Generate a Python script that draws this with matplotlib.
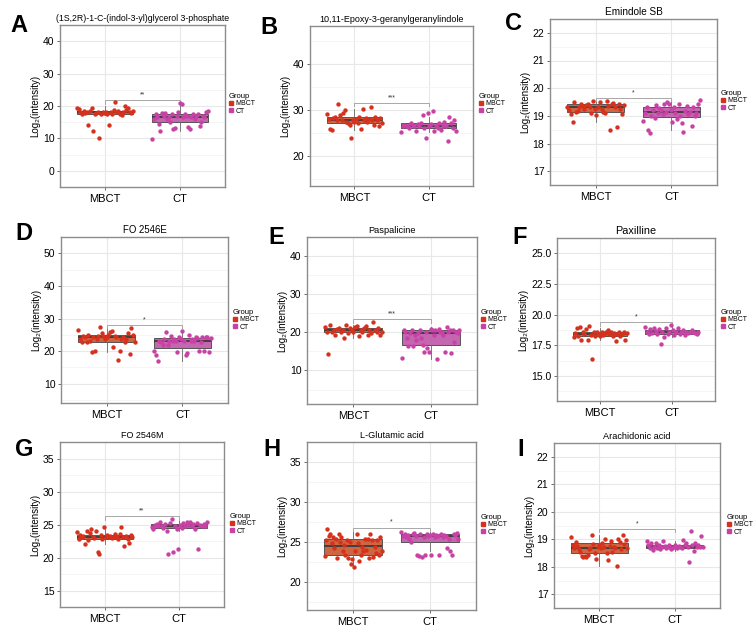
import matplotlib.pyplot as plt
import numpy as np
from matplotlib.lines import Line2D

plt.rcParams['font.family'] = ['Liberation Sans', 'DejaVu Sans']

groups = ['MBCT', 'CT']
titles = ['(1S,2R)-1-C-(indol-3-yl)glycerol 3-phosphate',
          '10,11-Epoxy-3-geranylgeranylindole', 'Emindole SB',
          'FO 2546E', 'Paspalicine', 'Paxilline',
          'FO 2546M', 'L-Glutamic acid', 'Arachidonic acid']
stars = ['**', '***', '*', '*', '***', '*', '**', '*', '*']

# log2 intensities, left to right inside each group
a_mbct = [19.5, 19.0, 18.0, 17.5, 18.5, 17.8, 18.0, 14.0, 18.5, 19.5, 12.4, 17.5, 17.7, 18.0, 10.2, 17.5, 18.0, 17.7,
          18.0, 17.5, 14.0, 18.0, 17.5, 18.7, 21.1, 18.0, 18.5, 17.5, 17.3, 18.0, 20.0, 18.7, 19.5, 18.0, 17.7, 18.5]
a_ct = [9.9, 16.0, 17.5, 16.5, 14.4, 12.4, 17.7, 17.0, 17.7, 16.0, 16.5, 15.0, 17.5, 12.9, 13.2, 17.0, 18.0, 21.0,
        20.7, 16.5, 17.5, 17.0, 13.4, 12.9, 16.5, 17.5, 16.0, 17.0, 17.5, 13.9, 15.0, 17.0, 16.5, 18.0, 18.5]
b_mbct = [29.1, 28.0, 25.8, 25.6, 28.2, 28.5, 27.7, 31.2, 28.9, 27.8, 29.3, 30.0, 27.4, 27.1, 26.7, 23.8, 27.8, 27.4,
          28.0, 27.1, 28.4, 25.9, 30.1, 27.8, 28.2, 27.4, 28.0, 30.6, 27.7, 26.7, 28.4, 27.8, 26.4, 28.2, 27.1]
b_ct = [25.1, 26.5, 26.7, 26.4, 26.5, 26.0, 27.1, 26.7, 26.4, 25.3, 26.9, 26.5, 27.1, 28.9, 26.0, 23.9, 29.3, 26.4,
        26.9, 29.8, 25.3, 26.5, 26.0, 27.1, 25.6, 26.4, 27.4, 26.5, 23.2, 28.4, 27.1, 26.0, 27.8, 25.3]
c_mbct = [19.31, 19.2, 19.05, 18.77, 19.5, 19.15, 19.19, 19.31, 19.44, 19.36, 19.23, 19.4, 19.42, 19.33, 19.1, 19.54,
          19.23, 19.04, 19.31, 19.5, 19.26, 19.15, 19.1, 19.52, 19.36, 18.47, 19.42, 19.47, 19.31, 18.58, 19.42, 19.26,
          19.05, 19.4]
c_ct = [18.81, 19.12, 19.31, 18.47, 18.37, 18.98, 19.21, 18.91, 19.4, 19.1, 19.29, 19.21, 19.05, 19.42, 19.15, 19.5,
        19.44, 19.21, 18.77, 19.31, 19.12, 18.87, 19.42, 19.0, 18.74, 18.42, 19.19, 19.36, 19.08, 19.15, 18.63, 19.31,
        18.98, 19.12, 19.44, 19.57]
d_mbct = [26.5, 23.7, 22.8, 24.6, 24.2, 22.8, 25.1, 23.2, 19.7, 24.4, 20.0, 23.7, 24.6, 27.4, 25.6, 24.6, 23.7, 24.2,
          24.9, 26.0, 26.2, 21.4, 24.6, 24.2, 17.2, 20.0, 23.7, 24.2, 22.8, 23.7, 25.6, 19.0, 27.2, 25.1, 22.8]
d_ct = [20.0, 18.8, 16.9, 23.2, 22.8, 21.8, 23.7, 26.0, 21.8, 23.1, 24.6, 23.2, 23.7, 23.1, 19.7, 24.2, 23.7, 26.2,
        23.1, 18.8, 19.3, 25.1, 23.2, 23.7, 23.1, 24.2, 24.0, 20.0, 22.8, 24.2, 20.0, 24.4, 24.2, 19.7, 24.0]
e_mbct = [21.3, 20.2, 14.2, 22.0, 20.0, 20.7, 19.4, 20.8, 21.1, 20.0, 20.5, 18.5, 22.0, 19.8, 21.1, 20.5, 20.0, 21.3,
          21.7, 19.1, 20.7, 20.0, 21.1, 21.7, 19.4, 20.5, 19.8, 22.8, 20.5, 20.0, 21.1, 19.4, 20.2]
e_ct = [13.2, 20.7, 20.0, 18.5, 16.4, 19.8, 20.5, 16.5, 19.4, 18.1, 19.8, 20.5, 18.5, 16.8, 14.8, 20.2, 15.9, 14.8,
        20.8, 20.5, 19.4, 20.7, 12.9, 20.8, 20.0, 20.2, 19.4, 14.8, 21.3, 20.0, 20.5, 14.6, 20.7, 17.4, 20.2, 19.8, 20.5]
f_mbct = [18.15, 18.49, 18.92, 18.28, 19.0, 17.95, 18.54, 18.41, 18.79, 17.9, 19.1, 18.33, 16.36, 18.54, 18.23,
          18.59, 18.41, 18.28, 18.54, 18.33, 18.49, 18.59, 18.74, 18.41, 18.54, 18.28, 18.49, 17.82, 18.41, 18.59,
          18.28, 18.41, 18.54, 17.9, 18.49]
f_ct = [19.0, 18.59, 18.41, 18.79, 18.49, 18.92, 18.67, 18.41, 18.85, 17.64, 18.54, 18.15, 18.92, 18.41, 18.59,
        19.18, 18.74, 18.33, 18.54, 18.92, 18.41, 18.59, 18.74, 18.33, 18.54, 18.49, 18.59, 18.74, 18.54, 18.49,
        18.41, 18.59]
g_mbct = [23.9, 22.8, 23.4, 23.1, 23.3, 22.1, 24.0, 22.7, 23.7, 24.4, 23.2, 22.9, 24.1, 20.8, 20.6, 23.4, 22.8, 24.6,
          23.2, 23.4, 23.1, 23.3, 22.9, 23.2, 23.6, 23.2, 22.8, 23.6, 24.6, 23.1, 21.7, 23.3, 22.8, 22.2, 23.4, 23.1]
g_ct = [24.7, 24.4, 25.0, 25.15, 24.77, 25.34, 24.87, 24.53, 25.15, 24.06, 20.58, 25.24, 25.92, 20.82, 24.77, 24.3,
        21.29, 25.0, 24.53, 25.24, 24.87, 25.34, 25.0, 25.4, 24.77, 25.15, 24.4, 25.24, 21.38, 25.0, 24.77, 25.15,
        24.87, 25.34]
h_mbct = [23.28, 25.25, 26.63, 25.84, 26.04, 24.86, 25.65, 24.26, 25.45, 23.08, 26.04, 25.05, 25.65, 23.87, 24.66,
          23.47, 25.25, 23.08, 25.05, 22.29, 22.88, 21.97, 23.87, 26.04, 24.86, 22.68, 23.47, 24.46, 23.87, 25.45,
          24.07, 25.45, 23.08, 26.04, 25.25, 23.16, 24.46, 23.67, 25.25, 23.47, 25.65, 23.87]
h_ct = [26.24, 25.84, 26.04, 25.65, 25.92, 25.45, 25.05, 26.04, 26.16, 25.84, 23.47, 23.28, 26.04, 23.16, 25.65,
        23.4, 26.04, 25.84, 25.92, 23.47, 26.04, 25.65, 25.92, 25.84, 23.47, 26.04, 25.65, 25.92, 25.84, 24.26,
        25.45, 23.87, 23.47, 26.04, 25.92, 26.16, 25.45]
i_mbct = [19.1, 18.79, 18.68, 18.91, 18.76, 18.65, 18.53, 18.39, 18.37, 18.39, 18.37, 18.42, 18.65, 18.68, 19.16,
          18.82, 18.5, 18.28, 18.73, 18.79, 18.68, 18.87, 18.73, 19.02, 18.5, 18.25, 18.76, 18.95, 18.53, 18.73,
          18.68, 18.03, 19.02, 18.91, 18.65, 19.16, 18.84, 18.99, 18.68]
i_ct = [18.93, 18.79, 18.68, 18.87, 18.61, 18.73, 18.87, 18.68, 18.79, 18.65, 18.73, 18.93, 18.76, 18.68, 18.73,
        18.79, 18.65, 18.68, 18.73, 18.79, 18.7, 18.76, 18.73, 18.68, 18.99, 18.79, 18.87, 18.73, 18.16, 19.29,
        18.79, 18.59, 18.87, 18.73, 18.79, 18.73, 19.13, 18.73]

data = [(a_mbct, a_ct), (b_mbct, b_ct), (c_mbct, c_ct), (d_mbct, d_ct), (e_mbct, e_ct),
        (f_mbct, f_ct), (g_mbct, g_ct), (h_mbct, h_ct), (i_mbct, i_ct)]

ylims = [(-3.9, 45), (13.4, 48.3), (16.95, 22.15), (4.1, 50.5), (1.2, 44.1),
         (12.95, 25.5), (14.15, 37.55), (16.56, 36.46), (16.5, 22.1)]
yticks = [[0, 10, 20, 30, 40], [20, 30, 40], [17, 18, 19, 20, 21, 22], [10, 20, 30, 40, 50],
          [10, 20, 30, 40], [15, 17.5, 20, 22.5, 25], [15, 20, 25, 30, 35], [20, 25, 30, 35],
          [17, 18, 19, 20, 21, 22]]
bracket_y = [21.7, 31.5, 19.63, 28.1, 23.4, 19.36, 26.25, 26.83, 19.38]

# layout in pixels of the 756x640 picture
axes_px = [(60, 25, 225, 187), (310, 26, 473, 186), (550, 19, 717, 185),
           (61, 237, 228, 403), (307, 237, 477, 404), (557, 238, 715, 401),
           (60, 442, 224, 607), (307, 442, 476, 610), (554, 443, 720, 608)]
legend_px = [(229, 93), (479, 93), (721, 90), (233, 309), (481, 309), (721, 309),
             (230, 513), (481, 514), (727, 514)]
letter_px = [(10, 25), (260, 27), (505, 23), (15, 233), (268, 238), (512, 237),
             (15, 450), (263, 449), (517, 449)]
title_size = [6.3, 6.5, 7.2, 6.9, 6.7, 7.8, 6.5, 6.6, 6.6]

point_cols = ['#D5321E', '#C842A6']
box_cols = ['#CF6642', '#C466B0']

W, H = 756, 640
fig = plt.figure(figsize=(W / 100, H / 100), dpi=100)

for k in range(9):
    l, t, r, b = axes_px[k]
    ax = fig.add_axes([l / W, 1 - b / H, (r - l) / W, (b - t) / H])
    lo, hi = ylims[k]
    span = hi - lo

    mbct, ct = data[k]
    bp = ax.boxplot([mbct, ct], positions=[1, 2], widths=0.75, patch_artist=True,
                    showfliers=False, showcaps=False,
                    boxprops=dict(edgecolor='#555555', linewidth=0.7),
                    whiskerprops=dict(color='#666666', linewidth=0.6),
                    medianprops=dict(color='#3A3A3A', linewidth=1.3))
    for patch, c in zip(bp['boxes'], box_cols):
        patch.set_facecolor(c)
    for i, vals in enumerate([mbct, ct]):
        xs = i + 1 + np.linspace(-0.37, 0.37, len(vals))
        ax.scatter(xs, vals, s=10, color=point_cols[i], lw=0, zorder=3)

    ax.set_xlim(0.4, 2.6)
    ax.set_ylim(lo, hi)
    ticks = yticks[k]
    step = ticks[1] - ticks[0]
    ax.set_yticks(ticks)
    ax.set_yticks([v + step / 2 for v in [ticks[0] - step] + ticks], minor=True)
    if k == 5:
        ax.set_yticklabels(['%.1f' % v for v in ticks])
    ax.set_xticks([1, 2])
    ax.set_xticklabels(groups)
    ax.grid(True, which='major', color='#E8E8E8', lw=0.8)
    ax.grid(True, which='minor', axis='y', color='#F2F2F2', lw=0.5)
    ax.set_axisbelow(True)
    ax.tick_params(which='minor', length=0)
    ax.tick_params(which='major', length=2.5, width=0.6, color='#555555', labelsize=7.5, pad=1.5)
    ax.tick_params(axis='x', labelsize=8, pad=2.5)
    for s in ax.spines.values():
        s.set_color('#8C8C8C')
        s.set_linewidth(1.0)

    by = bracket_y[k]
    tip = 0.02 * span
    ax.plot([1, 1, 2, 2], [by - tip, by, by, by - tip], color='#A8A8A8', lw=0.7, zorder=2)
    ax.text(1.5, by + 0.012 * span, stars[k], ha='center', va='bottom', fontsize=5, color='#333333')

    ax.set_title(titles[k], fontsize=title_size[k], pad=3)
    ax.set_ylabel('Log₂(intensity)', fontsize=7, labelpad=2)

    handles = [Line2D([], [], marker='s', ls='', color=point_cols[0], markersize=3.5),
               Line2D([], [], marker='s', ls='', color=point_cols[1], markersize=3.5)]
    lx, ly = legend_px[k]
    ax.legend(handles, groups, title='Group', loc='upper left', bbox_to_anchor=(lx / W, 1 - ly / H),
              bbox_transform=fig.transFigure, frameon=False, fontsize=5, title_fontsize=5.5,
              handlelength=0.6, handletextpad=0.3, labelspacing=0.05, borderpad=0, borderaxespad=0,
              alignment='left')

    px, py = letter_px[k]
    fig.text(px / W, 1 - py / H, 'ABCDEFGHI'[k], fontsize=17, fontweight='bold', va='center', ha='left')

fig.savefig('out.png', dpi=100)
